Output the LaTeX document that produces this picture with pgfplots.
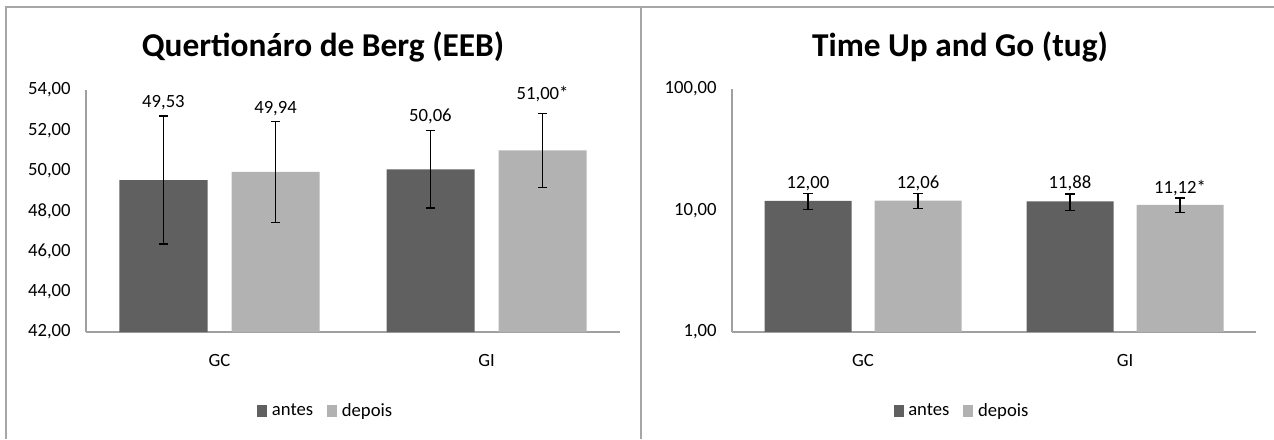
\documentclass[border=0pt]{standalone}
\usepackage{pgfplots}
\pgfplotsset{compat=1.18}
\usepackage{pgfplotstable}
\usepackage{fontspec}
\setmainfont{Carlito}
\definecolor{darkbar}{RGB}{96,96,96}
\definecolor{lightbar}{RGB}{178,178,178}
\definecolor{axisgray}{RGB}{160,160,160}
\definecolor{framegray}{RGB}{166,166,166}

\pgfplotstableread{
x antes antesErr depois depoisErr
0 49.53 3.17 49.94 2.50
1 50.06 1.92 51.00 1.83
}\bergdata

\pgfplotstableread{
x antes antesErr depois depoisErr
0 12.00 1.80 12.06 1.70
1 11.88 1.85 11.12 1.50
}\tugdata

\newcommand{\sfont}{\fontsize{14}{16}\selectfont}

\pgfplotsset{
  sq/.style={legend image code/.code={\fill[##1] (0pt,-4.5pt) rectangle (7.5pt,4.5pt);}},
  common/.style={
    scale only axis,
    anchor=south west,
    clip mode=individual,
    xmin=-0.5, xmax=1.5,
    xtick={0,1}, xticklabels={GC,GI},
    axis lines*=left,
    axis line style={-, axisgray, line width=0.9pt},
    major tick length=0pt, minor tick length=0pt,
    tick label style={font=\sfont, black},
    /pgf/number format/assume math mode=true,
    xticklabel style={anchor=base, yshift=-25.9pt},
    yticklabel style={xshift=-8pt},
    legend style={draw=none, fill=none, legend columns=-1, font=\sfont,
      /tikz/every odd column/.append style={column sep=2pt},
      /tikz/every even column/.append style={column sep=9pt},
      nodes={inner sep=1.5pt}},
    error bars/y dir=both, error bars/y explicit,
    error bars/error mark=|,
    error bars/error bar style={black, line width=1.1pt},
    error bars/error mark options={black, line width=1.1pt, mark size=3.4pt},
  },
}

\begin{document}
\begin{tikzpicture}
\useasboundingbox (0,0) rectangle (955.5pt,329.25pt);
\draw[framegray, line width=1.5pt] (4.125pt,0) -- (4.125pt,323.625pt) -- (955.5pt,323.625pt);
\draw[framegray, line width=1.5pt] (480.75pt,0) -- (480.75pt,323.625pt);

\node[font=\fontsize{25}{28}\selectfont\bfseries, anchor=base] at (242.25pt,286.5pt) {Quertionáro de Berg (EEB)};
\node[font=\fontsize{25}{28}\selectfont\bfseries, anchor=base] at (720pt,286.5pt) {Time Up and Go (tug)};

\begin{axis}[common,
  at={(64.5pt,80.25pt)}, width=400.5pt, height=181.5pt,
  ymin=42, ymax=54, ytick={42,44,...,54},
  yticklabel style={/pgf/number format/.cd, fixed, fixed zerofill, precision=2, use comma},
  ybar=18pt, bar width=66pt,
  legend style={at={(0.449,-0.326)}, anchor=center},
]
\addplot[fill=darkbar, draw=none, sq] table[x=x, y=antes, y error=antesErr] {\bergdata};
\addplot[fill=lightbar, draw=none, sq] table[x=x, y=depois, y error=depoisErr] {\bergdata};
\legend{antes, depois}
\node[font=\sfont, anchor=base] at (axis cs:-0.21,53.155) {49,53};
\node[font=\sfont, anchor=base] at (axis cs:0.21,52.858) {49,94};
\node[font=\sfont, anchor=base] at (axis cs:0.79,52.426) {50,06};
\node[font=\sfont, anchor=base] at (axis cs:1.21,53.55) {51,00*};
\end{axis}

\begin{axis}[common,
  at={(549pt,80.25pt)}, width=393pt, height=182.25pt,
  ymode=log, ymin=1, ymax=100, ytick={1,10,100},
  yticklabels={{1,00},{10,00},{100,00}},
  ybar=17.25pt, bar width=65.25pt,
  legend style={at={(0.439,-0.325)}, anchor=center},
]
\addplot[fill=darkbar, draw=none, sq] table[x=x, y=antes, y error=antesErr] {\tugdata};
\addplot[fill=lightbar, draw=none, sq] table[x=x, y=depois, y error=depoisErr] {\tugdata};
\legend{antes, depois}
\node[font=\sfont, anchor=base] at (axis cs:-0.21,15.14) {12,00};
\node[font=\sfont, anchor=base] at (axis cs:0.21,15.14) {12,06};
\node[font=\sfont, anchor=base] at (axis cs:0.79,15.14) {11,88};
\node[font=\sfont, anchor=base] at (axis cs:1.21,13.93) {11,12*};
\end{axis}
\end{tikzpicture}
\end{document}
